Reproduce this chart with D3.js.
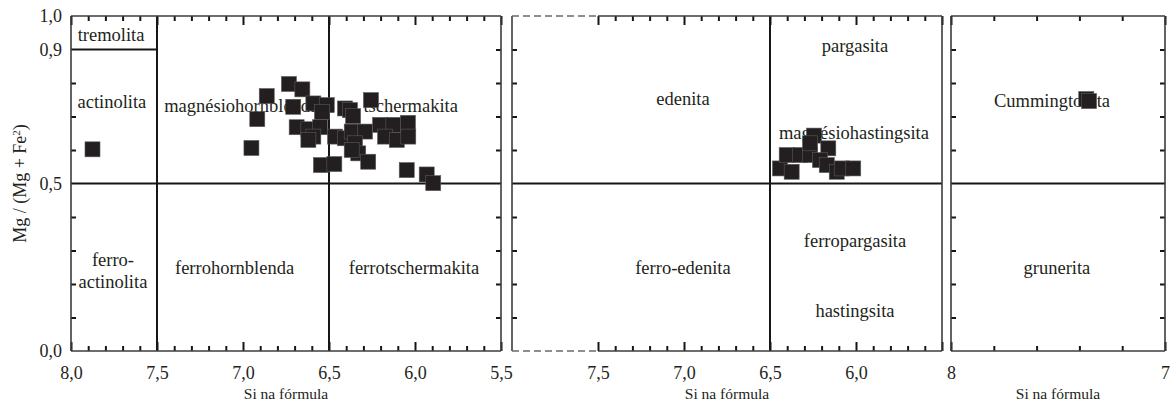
<!DOCTYPE html>
<html>
<head>
<meta charset="utf-8">
<script src="https://cdn.jsdelivr.net/npm/d3@7"></script>
<style>
  html, body { margin: 0; padding: 0; background: #fff; }
  svg { display: block; }
  text { font-family: "Liberation Serif", "Times New Roman", serif; fill: #231f20; }
</style>
</head>
<body>
<svg id="chart" width="1173" height="405"></svg>
<script>
// Amphibole classification diagrams: Mg/(Mg+Fe2) versus Si per formula unit.

// Calcic amphiboles, (Na+K)A < 0.5
const calcicSi = [7.875, 6.951, 6.917, 6.862, 6.733, 6.655, 6.708, 6.591, 6.513, 6.541,
                  6.407, 6.256, 6.378, 6.360, 6.688, 6.620, 6.552, 6.591, 6.620, 6.465,
                  6.407, 6.368, 6.291, 6.203, 6.126, 6.041, 6.174, 6.106, 6.039, 6.349,
                  6.330, 6.272, 6.368, 6.547, 6.469, 6.048, 5.932, 5.894];
const calcicMg = [0.602, 0.606, 0.692, 0.761, 0.797, 0.781, 0.729, 0.739, 0.734, 0.713,
                  0.724, 0.749, 0.719, 0.701, 0.668, 0.662, 0.668, 0.640, 0.630, 0.640,
                  0.635, 0.655, 0.655, 0.675, 0.675, 0.681, 0.640, 0.630, 0.640, 0.620,
                  0.590, 0.565, 0.600, 0.555, 0.558, 0.540, 0.527, 0.501];

// Calcic amphiboles, (Na+K)A >= 0.5
const sodicSi = [6.442, 6.374, 6.403, 6.326, 6.267, 6.244, 6.267, 6.161, 6.209, 6.170,
                 6.112, 6.083, 6.016];
const sodicMg = [0.545, 0.535, 0.585, 0.585, 0.585, 0.643, 0.620, 0.605, 0.570, 0.555,
                 0.535, 0.545, 0.545];

// Fe-Mg amphiboles
const femgSi = [7.368, 7.355];
const femgMg = [0.752, 0.746];

// Axis tick labels
const siLabels1 = ["8,0", "7,5", "7,0", "6,5", "6,0", "5,5"];
const siLabels2 = ["7,5", "7,0", "6,5", "6,0"];
const siLabels3 = ["8", "7"];
const mgLabels = ["1,0", "0,9", "0,5", "0,0"];

// Field names
const fields1 = [
  { name: "tremolita", si: 7.767, mg: 0.946 },
  { name: "actinolita", si: 7.762, mg: 0.744 },
  { name: "magnésiohornblenda", si: 7.010, mg: 0.734 },
  { name: "tschermakita", si: 6.025, mg: 0.734 },
  { name: "ferro-", si: 7.756, mg: 0.272 },
  { name: "actinolita", si: 7.756, mg: 0.206 },
  { name: "ferrohornblenda", si: 7.049, mg: 0.248 },
  { name: "ferrotschermakita", si: 6.006, mg: 0.248 }
];
const fields2 = [
  { name: "pargasita", si: 6.006, mg: 0.913 },
  { name: "edenita", si: 7.006, mg: 0.755 },
  { name: "magnésiohastingsita", si: 6.012, mg: 0.651 },
  { name: "ferropargasita", si: 6.006, mg: 0.330 },
  { name: "ferro-edenita", si: 7.006, mg: 0.248 },
  { name: "hastingsita", si: 6.006, mg: 0.120 }
];
const fields3 = [
  { name: "Cummingtonita", si: 7.528, mg: 0.749 },
  { name: "grunerita", si: 7.505, mg: 0.248 }
];

const svg = d3.select("#chart");
const plotTop = 16, plotBottom = 351;
const y = d3.scaleLinear().domain([0, 1]).range([plotBottom, plotTop]);

const frameColor = "#3c3c3c";
const lineColor = "#161616";
const markColor = "#231f20";
const markSize = 15;

function styleAxis(g) {
  g.select(".domain").remove();
  g.selectAll(".tick line").attr("stroke", lineColor).attr("stroke-width", 2);
  g.selectAll(".tick text")
    .style("font-family", '"Liberation Serif", "Times New Roman", serif')
    .style("font-size", "18px")
    .attr("fill", "#231f20");
}

function panel(opts) {
  const x = d3.scaleLinear().domain(opts.domain).range([opts.x0, opts.x1]);
  const g = svg.append("g");

  // field boundaries
  (opts.vlines || []).forEach(v => {
    g.append("line").attr("x1", x(v.si)).attr("x2", x(v.si))
      .attr("y1", y(v.mg0)).attr("y2", y(v.mg1))
      .attr("stroke", lineColor).attr("stroke-width", 2);
  });
  (opts.hlines || []).forEach(h => {
    g.append("line").attr("x1", x(h.si0)).attr("x2", x(h.si1))
      .attr("y1", y(h.mg)).attr("y2", y(h.mg))
      .attr("stroke", lineColor).attr("stroke-width", 2);
  });

  // x ticks (bottom and top, pointing inward)
  const minor = opts.xMinor, major = opts.xMajor;
  [["bottom", d3.axisBottom, plotBottom], ["top", d3.axisTop, plotTop]].forEach(([side, maker, pos]) => {
    g.append("g").attr("transform", `translate(0,${pos})`)
      .call(maker(x).tickValues(minor).tickSize(-5).tickFormat(""))
      .call(styleAxis);
    const ax = maker(x).tickValues(major).tickSize(-9).tickPadding(15);
    if (side === "bottom" && opts.xLabels) {
      ax.tickFormat((d, i) => opts.xLabels[i]);
    } else {
      ax.tickFormat("");
    }
    g.append("g").attr("transform", `translate(0,${pos})`).call(ax).call(styleAxis);
  });

  // y ticks
  if (opts.leftTicks) {
    g.append("g").attr("transform", `translate(${opts.x0},0)`)
      .call(d3.axisLeft(y).tickValues(opts.leftTicks).tickSize(-5).tickFormat(""))
      .call(styleAxis);
  }
  if (opts.rightTicks) {
    g.append("g").attr("transform", `translate(${opts.x1},0)`)
      .call(d3.axisRight(y).tickValues(opts.rightTicks).tickSize(-5).tickFormat(""))
      .call(styleAxis);
  }
  if (opts.yLabels) {
    g.append("g").attr("transform", `translate(${opts.x0},0)`)
      .call(d3.axisLeft(y).tickValues([1.0, 0.9, 0.5, 0.0]).tickSize(0).tickPadding(9)
        .tickFormat((d, i) => opts.yLabels[i]))
      .call(styleAxis);
  }

  // frame
  const dashTo = opts.dashTo;
  const xs = dashTo !== undefined ? x(dashTo) : opts.x0;
  const frame = g.append("g").attr("fill", "none").attr("stroke", frameColor).attr("stroke-width", 1.6);
  frame.append("line").attr("x1", opts.x0).attr("x2", opts.x0).attr("y1", plotTop).attr("y2", plotBottom);
  frame.append("line").attr("x1", opts.x1).attr("x2", opts.x1).attr("y1", plotTop).attr("y2", plotBottom);
  [plotTop, plotBottom].forEach(py => {
    frame.append("line").attr("x1", xs).attr("x2", opts.x1).attr("y1", py).attr("y2", py);
    if (dashTo !== undefined) {
      frame.append("line").attr("x1", opts.x0).attr("x2", xs).attr("y1", py).attr("y2", py)
        .attr("stroke", "#6a6a6a").attr("stroke-dasharray", "7,4");
    }
  });

  // field names
  g.append("g").selectAll("text").data(opts.fields).join("text")
    .attr("x", d => x(d.si)).attr("y", d => y(d.mg))
    .attr("dy", "0.35em")
    .attr("text-anchor", "middle")
    .style("font-size", "18.5px")
    .text(d => d.name);

  // analyses
  g.append("g").selectAll("rect").data(opts.si.map((s, i) => [s, opts.mg[i]])).join("rect")
    .attr("x", d => x(d[0]) - markSize / 2)
    .attr("y", d => y(d[1]) - markSize / 2)
    .attr("width", markSize).attr("height", markSize)
    .attr("fill", markColor)
    .attr("stroke", "#5a5a5a").attr("stroke-width", 0.6);

  // axis title
  g.append("text")
    .attr("x", (opts.x0 + opts.x1) / 2).attr("y", 399)
    .attr("text-anchor", "middle")
    .style("font-size", "15.5px")
    .text("Si na fórmula");

  return x;
}

panel({
  x0: 71, x1: 501, domain: [8, 5.5],
  xMinor: d3.range(79, 55, -1).map(v => v / 10).filter(v => Math.round(v * 10) % 5 !== 0),
  xMajor: [8.0, 7.5, 7.0, 6.5, 6.0, 5.5],
  xLabels: siLabels1,
  leftTicks: [0.1, 0.2, 0.3, 0.4, 0.6, 0.7, 0.8],
  rightTicks: [0.1, 0.2, 0.3, 0.4, 0.6, 0.7, 0.8, 0.9],
  yLabels: mgLabels,
  vlines: [{ si: 7.5, mg0: 0, mg1: 1 }, { si: 6.5, mg0: 0, mg1: 1 }],
  hlines: [{ si0: 8, si1: 5.5, mg: 0.5 }, { si0: 8, si1: 7.5, mg: 0.9 }],
  fields: fields1, si: calcicSi, mg: calcicMg
});

panel({
  x0: 512, x1: 942, domain: [8, 5.5], dashTo: 7.5,
  xMinor: d3.range(74, 55, -1).map(v => v / 10).filter(v => Math.round(v * 10) % 5 !== 0),
  xMajor: [7.5, 7.0, 6.5, 6.0, 5.5],
  xLabels: siLabels2.concat([""]),
  leftTicks: [0.1, 0.2, 0.3, 0.4, 0.6, 0.7, 0.8, 0.9],
  vlines: [{ si: 6.5, mg0: 0, mg1: 1 }],
  hlines: [{ si0: 8, si1: 5.5, mg: 0.5 }],
  fields: fields2, si: sodicSi, mg: sodicMg
});

panel({
  x0: 951, x1: 1165, domain: [8, 7],
  xMinor: [7.8, 7.6, 7.4, 7.2],
  xMajor: [8, 7],
  xLabels: siLabels3,
  leftTicks: [0.1, 0.2, 0.3, 0.4, 0.6, 0.7, 0.8, 0.9],
  rightTicks: [0.1, 0.2, 0.3, 0.4, 0.6, 0.7, 0.8, 0.9],
  hlines: [{ si0: 8, si1: 7, mg: 0.5 }],
  fields: fields3, si: femgSi, mg: femgMg
});

// y axis title
const yTitle = svg.append("text")
  .attr("transform", `translate(26,${(plotTop + plotBottom) / 2}) rotate(-90)`)
  .attr("text-anchor", "middle")
  .style("font-size", "18px");
yTitle.append("tspan").text("Mg / (Mg + Fe");
yTitle.append("tspan").attr("baseline-shift", "super").style("font-size", "11px").text("2");
yTitle.append("tspan").text(")");
</script>
</body>
</html>
